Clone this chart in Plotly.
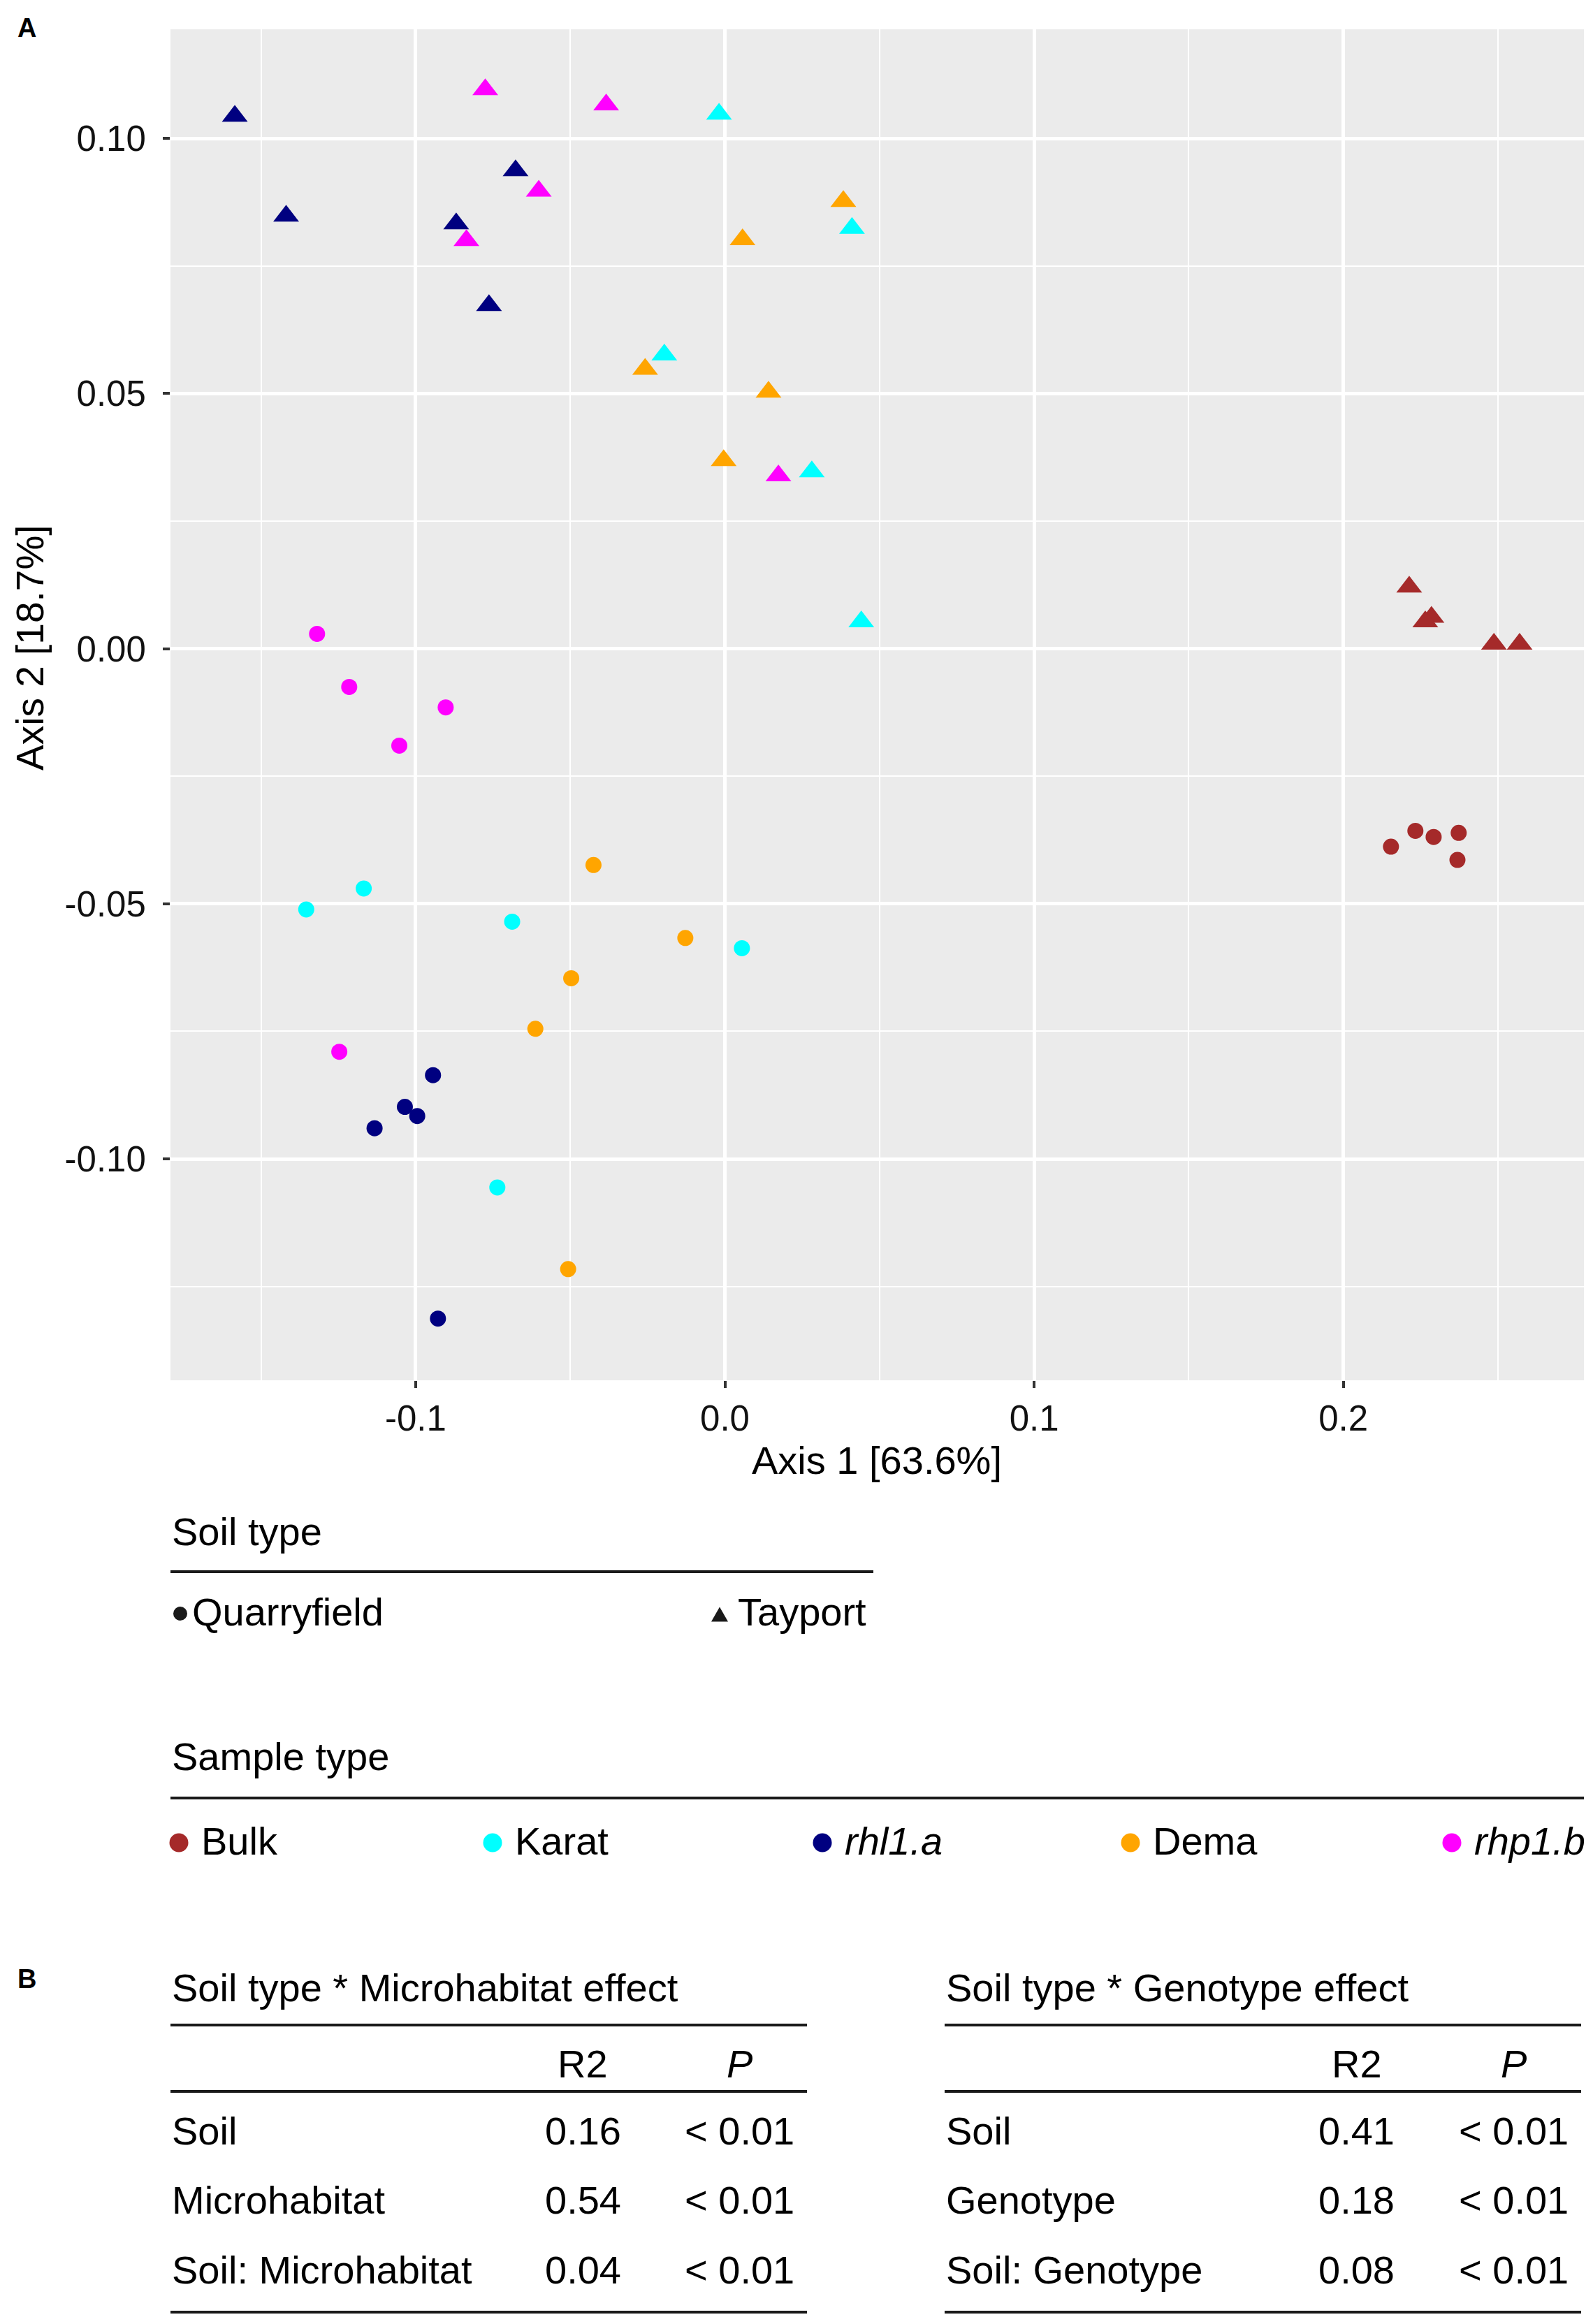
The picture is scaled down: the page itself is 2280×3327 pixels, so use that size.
import plotly.graph_objects as go

# the page body adds an 8 px margin, so the figure is 8 px smaller
OFF = 8
W, H = 2280 - OFF, 3327 - OFF
FONT = 'Liberation Sans, Arial, sans-serif'

# sample types, in legend order
sample_types = ['Bulk', 'Karat', 'rhl1.a', 'Dema', 'rhp1.b']
sample_labels = ['Bulk', 'Karat', '<i>rhl1.a</i>', 'Dema', '<i>rhp1.b</i>']
sample_colors = ['#A52A2A', '#00FFFF', '#000080', '#FFA500', '#FF00FF']

# Tayport soil (triangles), one list per sample type
tayport_x = [
    [0.2213, 0.2285, 0.2265, 0.2487, 0.2570],
    [-0.0019, 0.0411, -0.0196, 0.0281, 0.0441],
    [-0.1585, -0.0677, -0.1419, -0.0869, -0.0763],
    [0.0383, 0.0057, -0.0258, 0.0141, -0.0004],
    [-0.0775, -0.0384, -0.0602, -0.0836, 0.0173],
]
tayport_y = [
    [0.0121, 0.0062, 0.0053, 0.0009, 0.0009],
    [0.1048, 0.0824, 0.0576, 0.0347, 0.0053],
    [0.1044, 0.0937, 0.0848, 0.0833, 0.0673],
    [0.0877, 0.0802, 0.0548, 0.0503, 0.0369],
    [0.1096, 0.1066, 0.0897, 0.0800, 0.0339],
]

# Quarryfield soil (circles)
quarry_x = [
    [0.2154, 0.2233, 0.2292, 0.2373, 0.2369],
    [-0.1168, -0.1354, -0.0688, 0.0055, -0.0736],
    [-0.0944, -0.1035, -0.0995, -0.1133, -0.0928],
    [-0.0425, -0.0128, -0.0497, -0.0613, -0.0507],
    [-0.1319, -0.1215, -0.0903, -0.1053, -0.1247],
]
quarry_y = [
    [-0.0388, -0.0357, -0.0369, -0.0361, -0.0414],
    [-0.0470, -0.0511, -0.0535, -0.0587, -0.1056],
    [-0.0836, -0.0898, -0.0916, -0.0940, -0.1313],
    [-0.0424, -0.0567, -0.0646, -0.0745, -0.1216],
    [0.0029, -0.0075, -0.0115, -0.0190, -0.0790],
]

x_ticks = [-0.1, 0.0, 0.1, 0.2]
x_ticklabels = ['-0.1', '0.0', '0.1', '0.2']
y_ticks = [-0.10, -0.05, 0.00, 0.05, 0.10]
y_ticklabels = ['-0.10', '-0.05', '0.00', '0.05', '0.10']
x_minor = [-0.15, -0.05, 0.05, 0.15, 0.25]
y_minor = [-0.125, -0.075, -0.025, 0.025, 0.075]

soil_types = ['Quarryfield', 'Tayport']

# PERMANOVA tables (panel B)
table_titles = ['Soil type * Microhabitat effect', 'Soil type * Genotype effect']
table_rows = [['Soil', 'Microhabitat', 'Soil: Microhabitat'],
              ['Soil', 'Genotype', 'Soil: Genotype']]
table_r2 = [['0.16', '0.54', '0.04'],
            ['0.41', '0.18', '0.08']]
table_p = [['< 0.01', '< 0.01', '< 0.01'],
           ['< 0.01', '< 0.01', '< 0.01']]


def fx(x):
    return (x - OFF) / W


def fy(y):
    return 1 - (y - OFF) / H


fig = go.Figure()

for i, st in enumerate(sample_types):
    fig.add_trace(go.Scatter(x=quarry_x[i], y=quarry_y[i], mode='markers',
                             name=st + ' Quarryfield',
                             marker={'symbol': 'circle', 'size': 23,
                                     'color': sample_colors[i], 'line_width': 0}))
for i, st in enumerate(sample_types):
    fig.add_trace(go.Scatter(x=tayport_x[i], y=tayport_y[i], mode='markers',
                             name=st + ' Tayport',
                             marker={'symbol': 'triangle-up', 'size': 32,
                                     'color': sample_colors[i], 'line_width': 0}))

axis_common = dict(showline=False, zeroline=False, ticks='outside', ticklen=10,
                   tickwidth=4, tickcolor='#333333', showgrid=True,
                   gridcolor='white', gridwidth=4.5,
                   tickfont={'size': 51, 'color': '#111111', 'family': FONT})

fig.update_layout(
    width=W, height=H,
    margin={'l': 0, 'r': 0, 't': 0, 'b': 0},
    paper_bgcolor='white',
    plot_bgcolor='#EBEBEB',
    showlegend=False,
    font={'family': FONT, 'color': 'black'},
    xaxis=dict(axis_common, domain=[fx(244), fx(2267)], range=[-0.1793, 0.2778],
               tickmode='array', tickvals=x_ticks, ticktext=x_ticklabels,
               minor={'tickmode': 'array', 'tickvals': x_minor, 'showgrid': True,
                      'gridcolor': 'white', 'gridwidth': 2.2, 'ticks': ''}),
    yaxis=dict(axis_common, domain=[fy(1976), fy(42)], range=[-0.1434, 0.1214],
               tickmode='array', tickvals=y_ticks, ticktext=y_ticklabels,
               ticklabelstandoff=14,
               minor={'tickmode': 'array', 'tickvals': y_minor, 'showgrid': True,
                      'gridcolor': 'white', 'gridwidth': 2.2, 'ticks': ''}),
)

ann = []
shapes = []


def text(x, y, s, size=56, xanchor='left', **kw):
    ann.append(dict(x=fx(x), y=fy(y), xref='paper', yref='paper', text=s,
                    showarrow=False, xanchor=xanchor, yanchor='middle',
                    font={'size': size, 'color': 'black', 'family': FONT}, **kw))


def hline(x0, x1, y, w=4):
    shapes.append(dict(type='line', xref='paper', yref='paper',
                       x0=fx(x0), x1=fx(x1), y0=fy(y), y1=fy(y),
                       line={'color': '#1a1a1a', 'width': w}))


def key_dot(x, y, d, color):
    shapes.append(dict(type='circle', xref='paper', yref='paper',
                       xsizemode='pixel', ysizemode='pixel',
                       xanchor=fx(x), yanchor=fy(y),
                       x0=-d / 2, x1=d / 2, y0=-d / 2, y1=d / 2,
                       fillcolor=color, line_width=0))


def key_triangle(x, y, w, color):
    h = w * 0.87
    path = 'M%.1f,%.1f L%.1f,%.1f L0,%.1f Z' % (-w / 2, -h / 2, w / 2, -h / 2, h / 2)
    shapes.append(dict(type='path', xref='paper', yref='paper',
                       xsizemode='pixel', ysizemode='pixel',
                       xanchor=fx(x), yanchor=fy(y), path=path,
                       fillcolor=color, line_width=0))


# panel letters
text(38, 40, '<b>A</b>', size=38, xanchor='center')
text(38, 2833, '<b>B</b>', size=38, xanchor='center')

# axis titles
text(1255, 2090, 'Axis 1 [63.6%]', xanchor='center')
text(43, 927, 'Axis 2 [18.7%]', size=55, xanchor='center', textangle=-90,
     borderpad=0)

# legend: soil type
text(244, 2192, 'Soil type')
hline(244, 1250, 2250)
key_dot(258, 2310, 20, '#1a1a1a')
text(273, 2307, soil_types[0])
key_triangle(1030, 2311, 24, '#1a1a1a')
text(1054, 2307, soil_types[1])

# legend: sample type
text(244, 2514, 'Sample type')
hline(244, 2267, 2574)
key_x = [256, 705, 1177, 1618, 2078]
for i, lab in enumerate(sample_labels):
    key_dot(key_x[i], 2638, 27, sample_colors[i])
    text(key_x[i] + 30, 2635, lab)

# tables
for t in range(2):
    x0 = 244 + t * 1108
    text(x0, 2845, table_titles[t])
    hline(x0, x0 + 911, 2899)
    text(x0 + 590, 2954, 'R2', xanchor='center')
    text(x0 + 814, 2954, '<i>P</i>', xanchor='center')
    hline(x0, x0 + 911, 2994)
    for r in range(3):
        yy = 3050 + r * 99.5
        text(x0, yy, table_rows[t][r])
        text(x0 + 590, yy, table_r2[t][r], xanchor='center')
        text(x0 + 814, yy, table_p[t][r], xanchor='center')
    hline(x0, x0 + 911, 3310)

fig.update_layout(annotations=ann, shapes=shapes)
fig.write_html('out.html')
